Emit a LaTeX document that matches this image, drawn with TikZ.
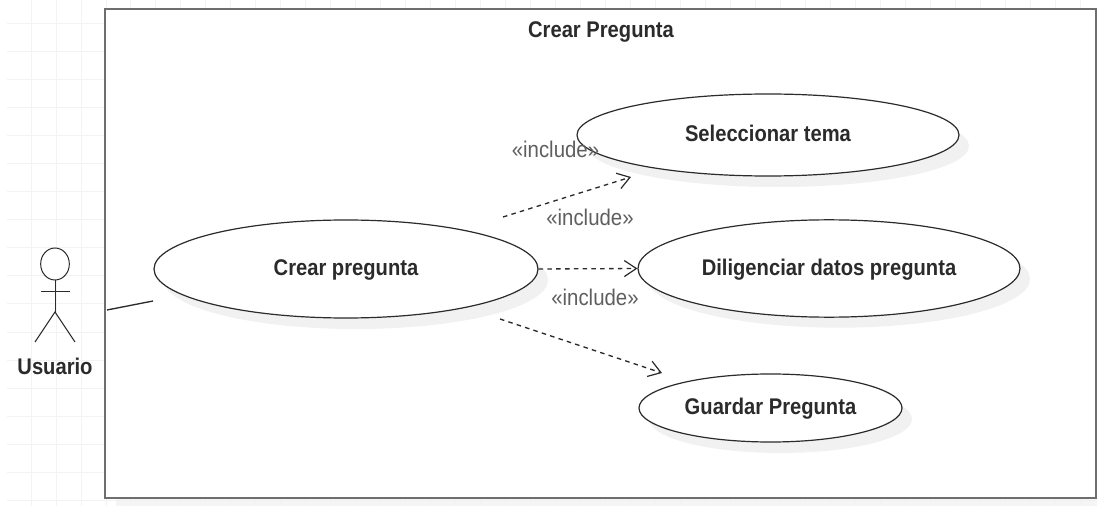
\documentclass[tikz,border=0pt]{standalone}
\usepackage{fontspec}
\setmainfont{Liberation Sans}
\newfontfamily\lblfont[FakeStretch=0.89]{Liberation Sans Bold}
\newfontfamily\incfont[FakeStretch=0.90]{Liberation Sans}
\usetikzlibrary{shapes.geometric,arrows.meta}
\definecolor{gridc}{HTML}{F3F3F3}
\definecolor{framec}{HTML}{6E6E6E}
\definecolor{shadowc}{HTML}{F1F1F1}
\definecolor{inkc}{HTML}{2B2B2B}
\definecolor{incc}{HTML}{5F5F5F}
\newcommand{\lowr}[1]{\raisebox{-1.5pt}[10pt][3pt]{#1}}
\tikzset{
  x=0.75pt,y=-0.75pt,
  usecase/.style={ellipse,draw=inkc,line width=0.9pt,fill=white,inner sep=0pt,
    font=\lblfont\fontsize{17}{19}\selectfont,text=inkc},
  ushadow/.style={ellipse,fill=shadowc,draw=none,inner sep=0pt},
  title/.style={font=\lblfont\fontsize{17}{19}\selectfont,text=inkc,inner sep=0pt},
  inclabel/.style={font=\incfont\fontsize{17}{19}\selectfont,text=incc,inner sep=0pt},
  actorline/.style={draw=inkc,line width=0.75pt},
  assoc/.style={draw=inkc,line width=1pt},
  incl/.style={draw=inkc,line width=1pt,dash pattern=on 3.4pt off 3.2pt,
    -{Straight Barb[length=9pt,width=12pt,line width=0.9pt]}},
}
\begin{document}
\begin{tikzpicture}
\useasboundingbox (0,0) rectangle (1097,506);
\fill[white] (0,0) rectangle (1097,506);
% background grid
\foreach \gx in {31,56,81,106,130,155,180,205,230,255,280,305,330,355,380,405,430,455,480,505,530,555,580,605,630,655,680,705,730,755,780,805,830,855,880,905,930,955,980,1005,1030,1055,1080}
  \draw[gridc,line width=0.75pt] (\gx,0) -- (\gx,506);
\foreach \gy in {24,52,80,108,136,164,192,220,248,276,304,332,360,388,416,444,472,500}
  \draw[gridc,line width=0.75pt] (7,\gy) -- (1097,\gy);
% frame
\fill[shadowc,opacity=0.7] (116,20) rectangle (1097,506);
\node[draw=framec,fill=white,line width=1.6pt,inner sep=0pt,outer sep=0pt,
      rectangle,anchor=north west,minimum width=743.25pt,minimum height=366.5pt] (frame) at (105,9) {};
\node[title] (ttl) at (601,32) {Crear Pregunta};
% shadows
\node[ushadow,minimum width=288pt,minimum height=73.5pt] at (356,280) {};
\node[ushadow,minimum width=286.5pt,minimum height=61.5pt] at (778,146) {};
\node[ushadow,minimum width=286.5pt,minimum height=73pt] at (839,279) {};
\node[ushadow,minimum width=197.25pt,minimum height=51pt] at (780.5,419) {};
% use cases
\node[usecase,minimum width=288pt,minimum height=73.5pt] (crear) at (346,269) {\lowr{Crear pregunta}};
\node[usecase,minimum width=286.5pt,minimum height=61.5pt] (sel) at (768,135) {\lowr{Seleccionar tema}};
\node[usecase,minimum width=286.5pt,minimum height=73pt] (dil) at (829,268.5) {\lowr{Diligenciar datos pregunta}};
\node[usecase,minimum width=197.25pt,minimum height=51pt] (gua) at (770.5,408) {\lowr{Guardar Pregunta}};
% actor
\node[ellipse,draw=inkc,line width=0.75pt,fill=white,inner sep=0pt,minimum width=21.5pt,minimum height=24pt] (head) at (55,264) {};
\coordinate (hip) at (55,312);
\coordinate (armL) at (41,292);
\coordinate (armR) at (70,292);
\coordinate (legL) at (35,342);
\coordinate (legR) at (75,342);
\draw[actorline] (head.south) -- (hip);
\draw[actorline] (armL) -- (armR);
\draw[actorline] (legL) -- (hip) -- (legR);
\node[title] (usu) at (55,366) {Usuario};
% association
\coordinate (aA) at (107,310);
\coordinate (aB) at (153,301);
\draw[assoc] (aA) -- (aB);
% includes
\coordinate (i1a) at (503,217);
\coordinate (i1b) at (631,177);
\coordinate (i3a) at (500,319);
\coordinate (i3b) at (662,373);
\draw[incl] (i1a) -- (i1b);
\draw[incl] (crear.east) -- (dil.west);
\draw[incl] (i3a) -- (i3b);
\node[inclabel] (l1) at (555.5,149) {«include»};
\node[inclabel] (l2) at (590,217) {«include»};
\node[inclabel] (l3) at (595,297) {«include»};
\end{tikzpicture}
\end{document}
